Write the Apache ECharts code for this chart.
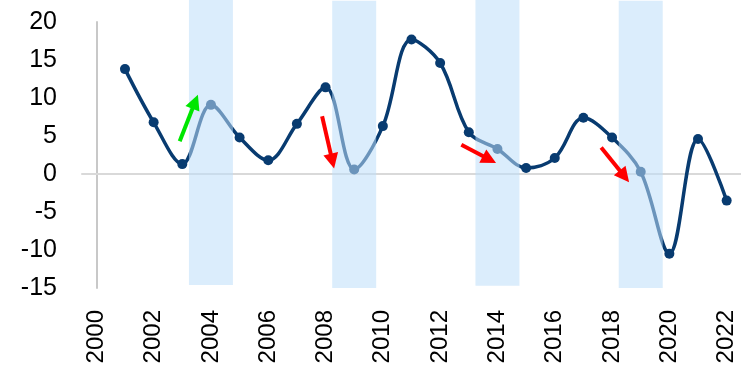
<!DOCTYPE html>
<html>
<head>
<meta charset="utf-8">
<script src="https://cdn.jsdelivr.net/npm/echarts@6/dist/echarts.min.js"></script>
<style>
  html, body { margin: 0; padding: 0; background: #fff; }
  #chart { width: 741px; height: 373px; }
</style>
</head>
<body>
<div id="chart"></div>
<script>
// Years on the horizontal axis (labels shown every other year)
const years = ['2000','2001','2002','2003','2004','2005','2006','2007','2008','2009','2010',
               '2011','2012','2013','2014','2015','2016','2017','2018','2019','2020','2021','2022'];

// Annual growth rate (%)
const growth = [null, 13.8, 6.8, 1.3, 9.1, 4.8, 1.8, 6.6, 11.4, 0.6, 6.3,
                17.7, 14.6, 5.5, 3.3, 0.8, 2.1, 7.4, 4.8, 0.3, -10.5, 4.6, -3.5];

// Shaded periods: upper and lower extent of each band
const bandUpper = [null,null,null,null,22.9,null,null,null,null,22.8,null,
                   null,null,null,22.9,null,null,null,null,22.8,null,null,null];
const bandLower = [null,null,null,null,-14.6,null,null,null,null,-15.0,null,
                   null,null,null,-14.7,null,null,null,null,-15.0,null,null,null];

// Direction arrows: [x0, y0, x1, y1] in year-index / value units
const greenArrows = [[2.91, 4.3, 3.45, 9.5]];
const redArrows = [
  [7.88, 7.6, 8.24, 1.7],
  [12.74, 3.85, 13.72, 1.9],
  [17.62, 3.5, 18.43, -0.3]
];

const yTicks = { min: -15, max: 20, interval: 5 };

const navy = '#083b70';
const band = 'rgba(190,222,250,0.55)';

function arrowLines(list, color) {
  return list.map(a => [
    { coord: [a[0], a[1]], lineStyle: { color: color, width: 4, type: 'solid' } },
    { coord: [a[2], a[3]] }
  ]);
}

const chart = echarts.init(document.getElementById('chart'), null, { renderer: 'canvas' });

chart.setOption({
  animation: false,
  backgroundColor: '#fff',
  grid: { left: 82, right: 0, top: 22, bottom: 85, containLabel: false },
  xAxis: [
    {
      type: 'category',
      data: years,
      boundaryGap: true,
      axisLine: { show: false, onZero: false },
      axisTick: { show: false },
      axisLabel: {
        interval: 1,
        rotate: 90,
        margin: 22,
        color: '#000',
        fontSize: 24,
        fontFamily: 'Liberation Sans'
      },
      splitLine: { show: false }
    },
    {
      type: 'value',
      min: -0.5,
      max: 22.5,
      show: true,
      axisLine: { show: true, onZero: true, lineStyle: { color: '#d9d9d9', width: 2 } },
      axisTick: { show: false },
      axisLabel: { show: false },
      splitLine: { show: false }
    }
  ],
  yAxis: {
    type: 'value',
    min: yTicks.min,
    max: yTicks.max,
    interval: yTicks.interval,
    axisLine: { show: true, lineStyle: { color: '#c8c8c8', width: 2 } },
    axisTick: { show: false },
    splitLine: { show: false },
    axisLabel: {
      margin: 25,
      color: '#000',
      fontSize: 25,
      fontFamily: 'Liberation Sans'
    }
  },
  series: [
    {
      name: 'growth',
      type: 'line',
      data: growth,
      smooth: 0.35,
      connectNulls: false,
      symbol: 'circle',
      symbolSize: 10,
      lineStyle: { color: navy, width: 3.5 },
      itemStyle: { color: navy },
      z: 2
    },
    {
      name: 'bandUp',
      type: 'bar',
      stack: 'band',
      data: bandUpper,
      barWidth: 44,
      clip: false,
      itemStyle: { color: band },
      z: 3,
      silent: true
    },
    {
      name: 'bandDown',
      type: 'bar',
      stack: 'band',
      data: bandLower,
      barWidth: 44,
      clip: false,
      itemStyle: { color: band },
      z: 3,
      silent: true
    },
    {
      name: 'arrows',
      type: 'line',
      xAxisIndex: 1,
      data: [],
      z: 4,
      markLine: {
        silent: true,
        symbol: ['none', 'triangle'],
        symbolSize: [15, 15],
        label: { show: false },
        emphasis: { disabled: true },
        data: arrowLines(greenArrows, '#00e600').concat(arrowLines(redArrows, '#ff0000'))
      }
    }
  ]
});
</script>
</body>
</html>
